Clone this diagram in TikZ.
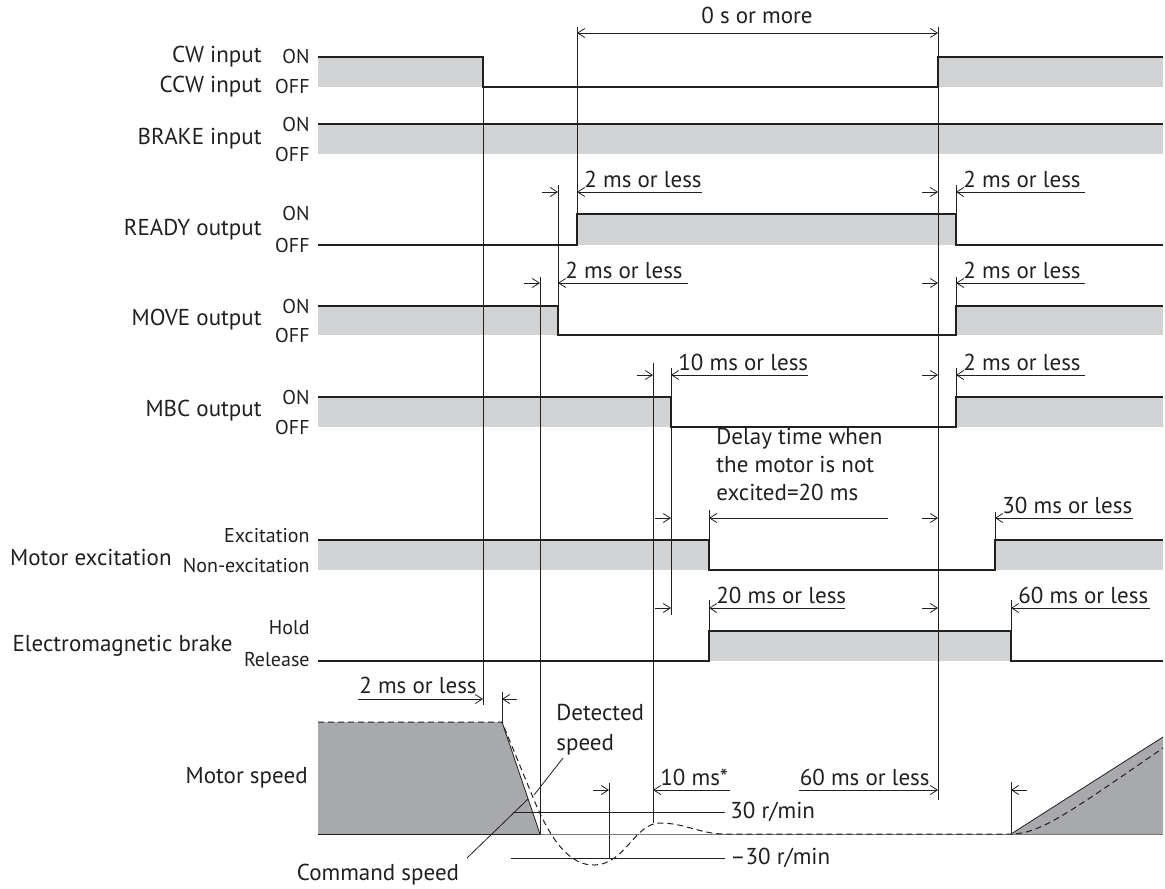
\documentclass[tikz,border=0pt]{standalone}
\usepackage{fontspec}
\setmainfont{PT Sans}
\usepackage{xcolor}
\usetikzlibrary{arrows.meta}

\definecolor{band}{HTML}{D1D3D4}
\definecolor{spd}{HTML}{A7A9AC}
\definecolor{ink}{HTML}{231F20}

\begin{document}
\begin{tikzpicture}[x=0.5pt,y=-0.5pt,
    sig/.style={draw=ink, line width=0.75pt},
    ref/.style={draw=ink, line width=0.4pt},
    tip/.style={-{Straight Barb[length=3.5pt,width=4.5pt]}, draw=ink, line width=0.4pt},
    lbl/.style={font=\fontsize{11.5}{14}\selectfont, inner sep=0pt, text=ink},
    lvl/.style={font=\fontsize{10}{12}\selectfont, inner sep=0pt, anchor=east, text=ink},
    dimtxt/.style={lbl, anchor=base west}]
    \useasboundingbox (0,0) rectangle (1165,888);

    % signal names
    \node[lbl, anchor=east] (cw) at (262,57) {CW input};
    \node[lbl, anchor=east] (ccw) at (262,87) {CCW input};
    \node[lbl, anchor=east] (brk) at (262,139) {BRAKE input};
    \node[lbl, anchor=east] (rdy) at (262,230) {READY output};
    \node[lbl, anchor=east] (mov) at (262,320) {MOVE output};
    \node[lbl, anchor=east] (mbc) at (262,411) {MBC output};
    \node[lbl, anchor=east] (exc) at (172,557) {Motor excitation};
    \node[lbl, anchor=east] (emb) at (233,646) {Electromagnetic brake};
    \node[lbl, anchor=east] (mspd) at (308,778) {Motor speed};

    % levels
    \foreach \y/\t/\n in {57/ON/l1, 87/OFF/l2, 124/ON/l3, 154/OFF/l4, 213/ON/l5, 245/OFF/l6,
        306/ON/l7, 335/OFF/l8, 397/ON/l9, 427/OFF/l10}
        \node[lvl] (\n) at (310,\y) {\t};
    \node[lvl] (l11) at (310,536) {Excitation};
    \node[lvl] (l12) at (310,566) {Non-excitation};
    \node[lvl] (l13) at (310,628) {Hold};
    \node[lvl] (l14) at (310,660) {Release};

    % gray bands
    \fill[band] (318,57) rectangle (483,87);
    \fill[band] (938,57) rectangle (1163,87);
    \fill[band] (318,124) rectangle (1163,154);
    \fill[band] (577,214) rectangle (956,245);
    \fill[band] (318,306) rectangle (558,335);
    \fill[band] (956,306) rectangle (1163,335);
    \fill[band] (318,397) rectangle (671,427);
    \fill[band] (956,397) rectangle (1163,427);
    \fill[band] (318,540) rectangle (709,570);
    \fill[band] (995,540) rectangle (1163,570);
    \fill[band] (709,631) rectangle (1011,661);

    % speed areas
    \fill[spd] (318,722) -- (502,722) -- (540,834) -- (318,834) -- cycle;
    \fill[spd] (1011,834) -- (1163,737) -- (1163,834) -- cycle;

    % reference lines
    \draw[ref] (483,57) -- (483,705);
    \draw[ref] (540,277) -- (540,834);
    \draw[ref] (558,185) -- (558,306);
    \draw[ref] (577,27) -- (577,214);
    \draw[ref] (653,363) -- (653,823);
    \draw[ref] (671,368) -- (671,615);
    \draw[ref] (709,510) -- (709,540);
    \draw[ref] (709,600) -- (709,631);
    \draw[ref] (938,27) -- (938,800);
    \draw[ref] (956,185) -- (956,214);
    \draw[ref] (956,277) -- (956,306);
    \draw[ref] (956,368) -- (956,397);
    \draw[ref] (995,512) -- (995,540);
    \draw[ref] (1011,600) -- (1011,631);
    \draw[ref] (1011,782) -- (1011,834);
    \draw[ref] (502,692) -- (502,722);
    \draw[ref] (609,783) -- (609,858);

    % signals
    \draw[sig] (318,57) -- (483,57) -- (483,87) -- (938,87) -- (938,57) -- (1163,57);
    \draw[sig] (318,124) -- (1163,124);
    \draw[sig] (318,245) -- (577,245) -- (577,214) -- (956,214) -- (956,245) -- (1163,245);
    \draw[sig] (318,306) -- (558,306) -- (558,335) -- (956,335) -- (956,306) -- (1163,306);
    \draw[sig] (318,397) -- (671,397) -- (671,427) -- (956,427) -- (956,397) -- (1163,397);
    \draw[sig] (318,540) -- (709,540) -- (709,570) -- (995,570) -- (995,540) -- (1163,540);
    \draw[sig] (318,661) -- (709,661) -- (709,631) -- (1011,631) -- (1011,661) -- (1163,661);

    % motor speed
    \draw[draw=ink!60, line width=0.4pt] (318,834) -- (1163,834);
    \draw[ref] (318,834) -- (540,834);
    \draw[ref] (502,722) -- (540,834);
    \draw[ref] (1011,834) -- (1163,737);
    \draw[ink, line width=0.5pt, dash pattern=on 3pt off 2pt] (318,722) -- (502,722)
        -- (532,795) .. controls (552,845) and (572,866) .. (595,865)
        .. controls (625,864) and (635,823) .. (660,823)
        .. controls (685,823) and (700,834) .. (725,834) -- (1011,834)
        .. controls (1040,834) and (1070,812) .. (1163,748);
    \draw[ref] (513,812) -- (725,812) node[lbl, anchor=west, inner sep=0pt, xshift=2.5pt] (p30) {30 r/min};
    \draw[ref] (511,858) -- (725,858) node[lbl, anchor=west, inner sep=0pt, xshift=2.5pt] (m30) {\textendash30 r/min};

    % dimensions
    \draw[{Straight Barb[length=3.5pt,width=4.5pt]}-{Straight Barb[length=3.5pt,width=4.5pt]}, ref] (577,33) -- (938,33);
    \node[lbl, anchor=base] (zero) at (757,24) {0 s or more};
    \foreach \a/\b/\y/\e/\t/\n in {558/577/192/702/2 ms or less/dA, 938/956/192/1085/2 ms or less/dB,
        540/558/283/688/2 ms or less/dC, 938/956/283/1085/2 ms or less/dD,
        653/671/375/808/10 ms or less/dE, 938/956/375/1085/2 ms or less/dF,
        938/995/518/1133/30 ms or less/dG, 671/709/608/845/20 ms or less/dH,
        938/1011/608/1150/60 ms or less/dI, 609/653/790/730/10 ms*/dJ} {
        \draw[tip] (\a-16,\y) -- (\a,\y);
        \draw[tip] (\e,\y) -- (\b,\y);
        \node[dimtxt] (\n) at (\b+7,\y-5) {\t};
    }
    \draw[tip] (671-16,518) -- (671,518);
    \draw[tip] (888,518) -- (709,518);
    \node[lbl, anchor=north west, align=left] (delay) at (716,428)
        {Delay time when\\the motor is not\\excited=20 ms};

    \draw[tip] (358,699) -- (483,699);
    \draw[tip] (517,699) -- (502,699);
    \node[lbl, anchor=base] (d2s) at (418,693) {2 ms or less};
    \draw[tip] (799,790) -- (938,790);
    \draw[tip] (1027,790) -- (1011,790);
    \node[lbl, anchor=base east] (d60) at (930,785) {60 ms or less};

    % speed callouts
    \node[lbl, anchor=base west] (det) at (556,720) {Detected};
    \node[lbl, anchor=base west] (dsp) at (556,750) {speed};
    \node[lbl, anchor=base] (cmd) at (378,880) {Command speed};
    \coordinate (detend) at (534,795);
    \coordinate (cmdend) at (528,799);
    \draw[ref] (563,758) -- (detend);
    \draw[ref] (467,858) -- (cmdend);
\end{tikzpicture}
\end{document}
